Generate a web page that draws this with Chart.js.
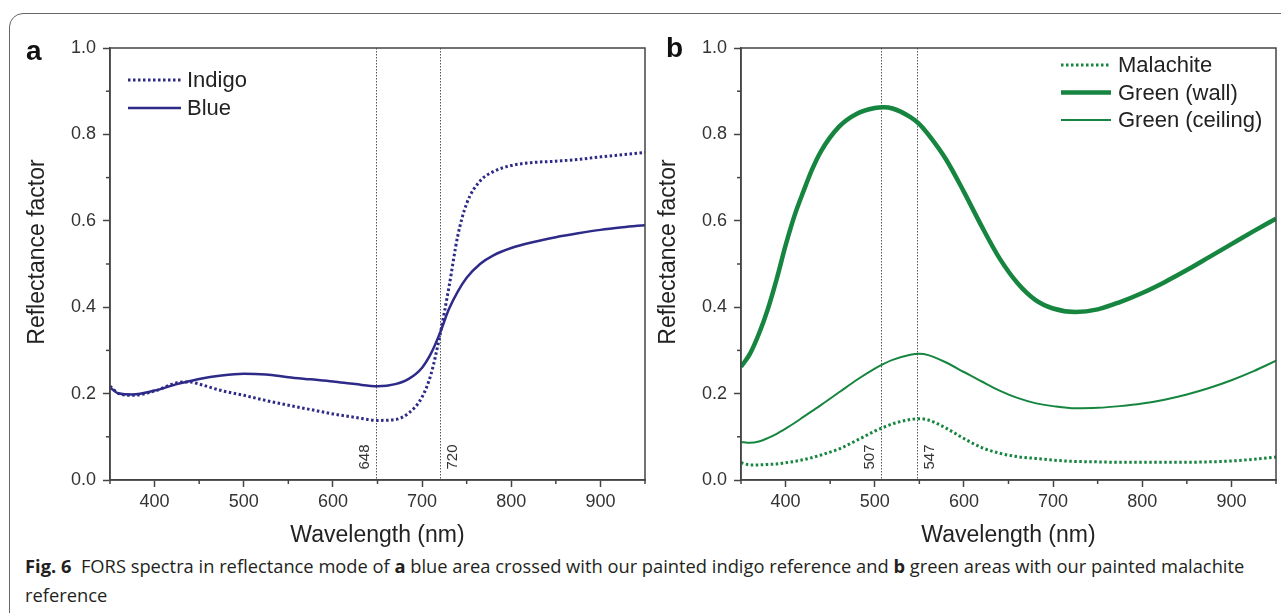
<!DOCTYPE html>
<html>
<head>
<meta charset="utf-8">
<script src="https://cdn.jsdelivr.net/npm/chart.js@4.4.1/dist/chart.umd.min.js"></script>
<style>
  body { margin: 0; width: 1281px; height: 613px; overflow: hidden; background: #fff; font-family: "Liberation Sans", Arial, sans-serif; }
  #frame { position: absolute; left: 9px; top: 13px; width: 1320px; height: 720px; border: 1.5px solid #666; border-radius: 14px; }
  canvas { position: absolute; top: 0; }
  #chartA { left: 0; }
  #chartB { left: 630px; }
  .panel { position: absolute; font-weight: bold; font-size: 28px; line-height: 28px; color: #111; }
  .cap { position: absolute; left: 25px; font-family: "Open Sans", sans-serif; font-size: 17px; line-height: 20px; color: #231f20; white-space: nowrap; }
  .cap b { font-weight: bold; }
</style>
</head>
<body>
<div id="frame"></div>
<canvas id="chartA" width="660" height="550"></canvas>
<canvas id="chartB" width="651" height="550"></canvas>
<div class="panel" style="left:26px; top:37px;">a</div>
<div class="panel" style="left:666px; top:34px;">b</div>
<div class="cap" id="cap1" style="top:556px;"><b>Fig. 6</b>&nbsp; FORS spectra in reflectance mode of <b>a</b> blue area crossed with our painted indigo reference and <b>b</b> green areas with our painted malachite</div>
<div class="cap" id="cap2" style="top:585px;">reference</div>
<script>
// panel a: wavelength (nm) and reflectance factor
const wlA = [350, 360, 375, 400, 425, 440, 450, 475, 500, 525, 550, 575, 600, 625, 650, 670, 685, 700, 710, 720, 730, 740, 750, 765, 780, 800, 825, 850, 875, 900, 925, 950];
const indigo = [0.217, 0.200, 0.196, 0.206, 0.225, 0.227, 0.222, 0.207, 0.196, 0.184, 0.173, 0.163, 0.153, 0.145, 0.138, 0.140, 0.155, 0.192, 0.245, 0.335, 0.445, 0.565, 0.640, 0.692, 0.714, 0.728, 0.735, 0.738, 0.742, 0.748, 0.753, 0.758];
const blue = [0.214, 0.200, 0.198, 0.207, 0.222, 0.229, 0.234, 0.242, 0.246, 0.244, 0.238, 0.233, 0.228, 0.222, 0.217, 0.222, 0.234, 0.260, 0.293, 0.340, 0.395, 0.436, 0.468, 0.500, 0.520, 0.537, 0.551, 0.562, 0.571, 0.579, 0.585, 0.590];

// panel b
const wlB = [350, 360, 370, 380, 390, 400, 410, 420, 430, 440, 460, 480, 500, 510, 520, 540, 550, 560, 580, 600, 620, 640, 660, 680, 700, 725, 750, 775, 800, 825, 850, 875, 900, 925, 950];
const malachite = [0.040, 0.035, 0.035, 0.036, 0.037, 0.040, 0.043, 0.047, 0.052, 0.058, 0.072, 0.092, 0.113, 0.122, 0.130, 0.140, 0.142, 0.139, 0.120, 0.096, 0.075, 0.062, 0.054, 0.050, 0.046, 0.043, 0.042, 0.041, 0.041, 0.041, 0.041, 0.042, 0.044, 0.048, 0.053];
const greenWall = [0.262, 0.292, 0.338, 0.395, 0.465, 0.543, 0.612, 0.668, 0.720, 0.762, 0.818, 0.848, 0.861, 0.863, 0.860, 0.840, 0.824, 0.800, 0.742, 0.667, 0.587, 0.513, 0.456, 0.417, 0.397, 0.389, 0.395, 0.412, 0.433, 0.458, 0.486, 0.516, 0.546, 0.576, 0.605];
const greenCeiling = [0.088, 0.086, 0.089, 0.097, 0.107, 0.119, 0.132, 0.146, 0.160, 0.174, 0.203, 0.232, 0.258, 0.269, 0.278, 0.290, 0.292, 0.289, 0.272, 0.250, 0.228, 0.207, 0.190, 0.178, 0.171, 0.166, 0.167, 0.171, 0.177, 0.186, 0.198, 0.213, 0.231, 0.252, 0.276];

const markersA = [648, 720];
const markersB = [507, 547];
const xTickLabels = ["400", "500", "600", "700", "800", "900"];
const yTickLabels = ["0.0", "0.2", "0.4", "0.6", "0.8", "1.0"];

const navy = "#2e2a88";
const green = "#16853f";

Chart.defaults.font.family = '"Liberation Sans", Arial, sans-serif';
Chart.defaults.color = "#333";

const toPoints = (wl, vals) => wl.map((x, i) => ({ x: x, y: vals[i] }));

const extras = {
  id: "extras",
  beforeDatasetsDraw(chart, args, opts) {
    const { ctx, chartArea: a, scales: { x } } = chart;
    ctx.save();
    opts.markers.forEach((m, i) => {
      const px = Math.round(x.getPixelForValue(m)) + 0.5;
      ctx.strokeStyle = "#555";
      ctx.lineWidth = 1;
      ctx.setLineDash([1.5, 1.5]);
      ctx.beginPath();
      ctx.moveTo(px, a.top);
      ctx.lineTo(px, a.bottom);
      ctx.stroke();
      ctx.save();
      ctx.translate(px + opts.sides[i] * 12, a.bottom - 23);
      ctx.rotate(-Math.PI / 2);
      ctx.fillStyle = "#333";
      ctx.font = '15px "Liberation Sans"';
      ctx.textAlign = "center";
      ctx.textBaseline = "middle";
      ctx.fillText(String(m), 0, 0);
      ctx.restore();
    });
    ctx.restore();
  },
  afterDraw(chart, args, opts) {
    const { ctx, chartArea: a, scales: { x, y } } = chart;
    ctx.save();
    // box
    ctx.strokeStyle = "#444";
    ctx.lineWidth = 1.5;
    ctx.strokeRect(a.left, a.top, a.right - a.left, a.bottom - a.top);
    // minor ticks
    x.ticks.forEach((t) => {
      if (t.value % 100 !== 0) {
        const px = x.getPixelForValue(t.value);
        ctx.beginPath(); ctx.moveTo(px, a.bottom); ctx.lineTo(px, a.bottom + 4); ctx.stroke();
      }
    });
    y.ticks.forEach((t) => {
      if (Math.round(t.value * 10) % 2 !== 0) {
        const py = y.getPixelForValue(t.value);
        ctx.beginPath(); ctx.moveTo(a.left - 4, py); ctx.lineTo(a.left, py); ctx.stroke();
      }
    });
    // y title, sits a little above the middle in the original
    ctx.save();
    ctx.translate(opts.yTitleX, (a.top + a.bottom) / 2 - 12);
    ctx.rotate(-Math.PI / 2);
    ctx.fillStyle = "#222";
    ctx.font = '23px "Liberation Sans"';
    ctx.textAlign = "center";
    ctx.textBaseline = "middle";
    ctx.fillText("Reflectance factor", 0, 0);
    ctx.restore();
    // legend
    const lg = opts.legend;
    chart.data.datasets.forEach((ds, i) => {
      const ly = lg.y + i * lg.rowH;
      ctx.strokeStyle = ds.borderColor;
      ctx.lineWidth = ds.borderWidth;
      ctx.setLineDash(ds.borderDash || []);
      ctx.beginPath(); ctx.moveTo(lg.x, ly); ctx.lineTo(lg.x + lg.w, ly); ctx.stroke();
      ctx.setLineDash([]);
      ctx.fillStyle = "#222";
      ctx.font = '22px "Liberation Sans"';
      ctx.textBaseline = "middle";
      ctx.fillText(ds.label, lg.x + lg.w + lg.gap, ly + 1);
    });
    ctx.restore();
  }
};

function makePanel(id, datasets, markers, sides, legend, yWidth, rightPad, yTitleX) {
  return new Chart(document.getElementById(id), {
    type: "line",
    data: { datasets: datasets },
    options: {
      responsive: false,
      animation: false,
      layout: { padding: { top: 48, right: rightPad, left: 0, bottom: 0 } },
      elements: { point: { radius: 0 }, line: { cubicInterpolationMode: "monotone", borderCapStyle: "butt" } },
      plugins: {
        legend: { display: false },
        tooltip: { enabled: false },
        extras: { markers: markers, sides: sides, legend: legend, yTitleX: yTitleX }
      },
      scales: {
        x: {
          type: "linear", min: 350, max: 950,
          afterFit: (s) => { s.height = 70; },
          border: { color: "#444", width: 1.5 },
          grid: { drawOnChartArea: false, tickLength: 7, tickWidth: 1.5,
            tickColor: (c) => (c.tick && c.tick.value % 100 === 0 ? "#444" : "transparent") },
          ticks: { stepSize: 50, padding: 4, maxRotation: 0, autoSkip: false, font: { size: 18 },
            callback: (v) => (xTickLabels.includes(String(v)) ? String(v) : "") },
          title: { display: true, text: "Wavelength (nm)", font: { size: 23 }, color: "#222", padding: { bottom: 1 } }
        },
        y: {
          type: "linear", min: 0, max: 1,
          afterFit: (s) => { s.width = yWidth; },
          border: { color: "#444", width: 1.5 },
          grid: { drawOnChartArea: false, tickLength: 7, tickWidth: 1.5,
            tickColor: (c) => (c.tick && Math.round(c.tick.value * 10) % 2 === 0 ? "#444" : "transparent") },
          ticks: { stepSize: 0.1, padding: 7, autoSkip: false, font: { size: 18 },
            callback: (v) => (yTickLabels.includes(v.toFixed(1)) ? v.toFixed(1) : "") }
        }
      }
    },
    plugins: [extras]
  });
}

makePanel("chartA", [
  { label: "Indigo", data: toPoints(wlA, indigo), borderColor: navy, borderWidth: 3, borderDash: [2.5, 2.5], fill: false },
  { label: "Blue", data: toPoints(wlA, blue), borderColor: navy, borderWidth: 2.5, fill: false }
], markersA, [-1, 1], { x: 128, y: 80, w: 53, gap: 6, rowH: 28 }, 110, 15, 38);

makePanel("chartB", [
  { label: "Malachite", data: toPoints(wlB, malachite), borderColor: green, borderWidth: 3, borderDash: [2.5, 2.5], fill: false },
  { label: "Green (wall)", data: toPoints(wlB, greenWall), borderColor: green, borderWidth: 4.5, fill: false },
  { label: "Green (ceiling)", data: toPoints(wlB, greenCeiling), borderColor: green, borderWidth: 2, fill: false }
], markersB, [-1, 1], { x: 431, y: 65, w: 50, gap: 7, rowH: 27.5 }, 111, 5, 39);

// fit caption width to the figure
const cap1 = document.getElementById("cap1");
const cap2 = document.getElementById("cap2");
const size = 17 * 1220 / cap1.getBoundingClientRect().width;
cap1.style.fontSize = size + "px";
cap2.style.fontSize = size + "px";
</script>
</body>
</html>
